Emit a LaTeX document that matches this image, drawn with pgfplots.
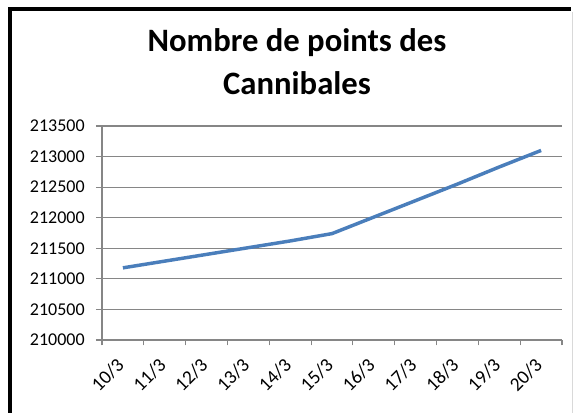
\documentclass[border=0pt]{standalone}
\usepackage{fontspec}
\setmainfont{Carlito}
\usepackage{pgfplots}
\pgfplotsset{compat=1.18}
\definecolor{linblue}{HTML}{4A7EBB}
\definecolor{gridgray}{HTML}{868686}
\begin{document}
\begin{tikzpicture}
\useasboundingbox (0,0) rectangle (432pt,-309.75pt);
\begin{scope}
\clip (0,0) rectangle (432pt,-309.75pt);
\fill[white] (0,0) rectangle (432pt,-309.75pt);
\draw[line width=3pt] (7.5pt,-320pt) -- (7.5pt,-6.75pt) -- (428.25pt,-6.75pt);
\draw[black!15, line width=0.75pt] (429pt,-9pt) -- (429pt,-320pt);
\end{scope}
\node[font=\bfseries\fontsize{24.5}{32}\selectfont, align=center] at (222.75pt,-46pt) {Nombre de points des\\Cannibales};
\begin{axis}[
  at={(76.5pt,-255pt)}, anchor=south west,
  scale only axis, width=345pt, height=160.5pt,
  xmin=0, xmax=11, ymin=210000, ymax=213500,
  axis lines*=left,
  axis line style={gridgray, line width=0.8pt},
  ytick={210000,210500,...,213500},
  scaled y ticks=false,
  ymajorgrids, grid style={gridgray, line width=0.8pt},
  xtick={0.5,1.5,...,10.5},
  xticklabels={10/3,11/3,12/3,13/3,14/3,15/3,16/3,17/3,18/3,19/3,20/3},
  minor xtick={0,1,...,11},
  major x tick style={draw=none},
  minor x tick style={gridgray, line width=0.8pt},
  y tick style={gridgray, line width=0.8pt},
  tick align=outside,
  minor tick length=4pt,
  major tick length=4.5pt,
  /pgf/number format/assume math mode=true,
  /pgf/number format/fixed,
  /pgf/number format/precision=0,
  /pgf/number format/1000 sep={},
  yticklabel style={font=\fontsize{13.5}{16}\selectfont, xshift=-5pt},
  xticklabel style={font=\fontsize{14.5}{16}\selectfont, xshift=-1.5pt, yshift=-12pt, rotate=45, anchor=east, inner sep=0pt},
  clip=false,
]
\addplot[linblue, line width=2.6pt] coordinates {
(0.5,211180) (1.5,211290) (2.5,211400) (3.5,211510) (4.5,211620) (5.5,211740)
(6.5,212010) (7.5,212280) (8.5,212550) (9.5,212830) (10.5,213100)
};
\end{axis}
\end{tikzpicture}
\end{document}
